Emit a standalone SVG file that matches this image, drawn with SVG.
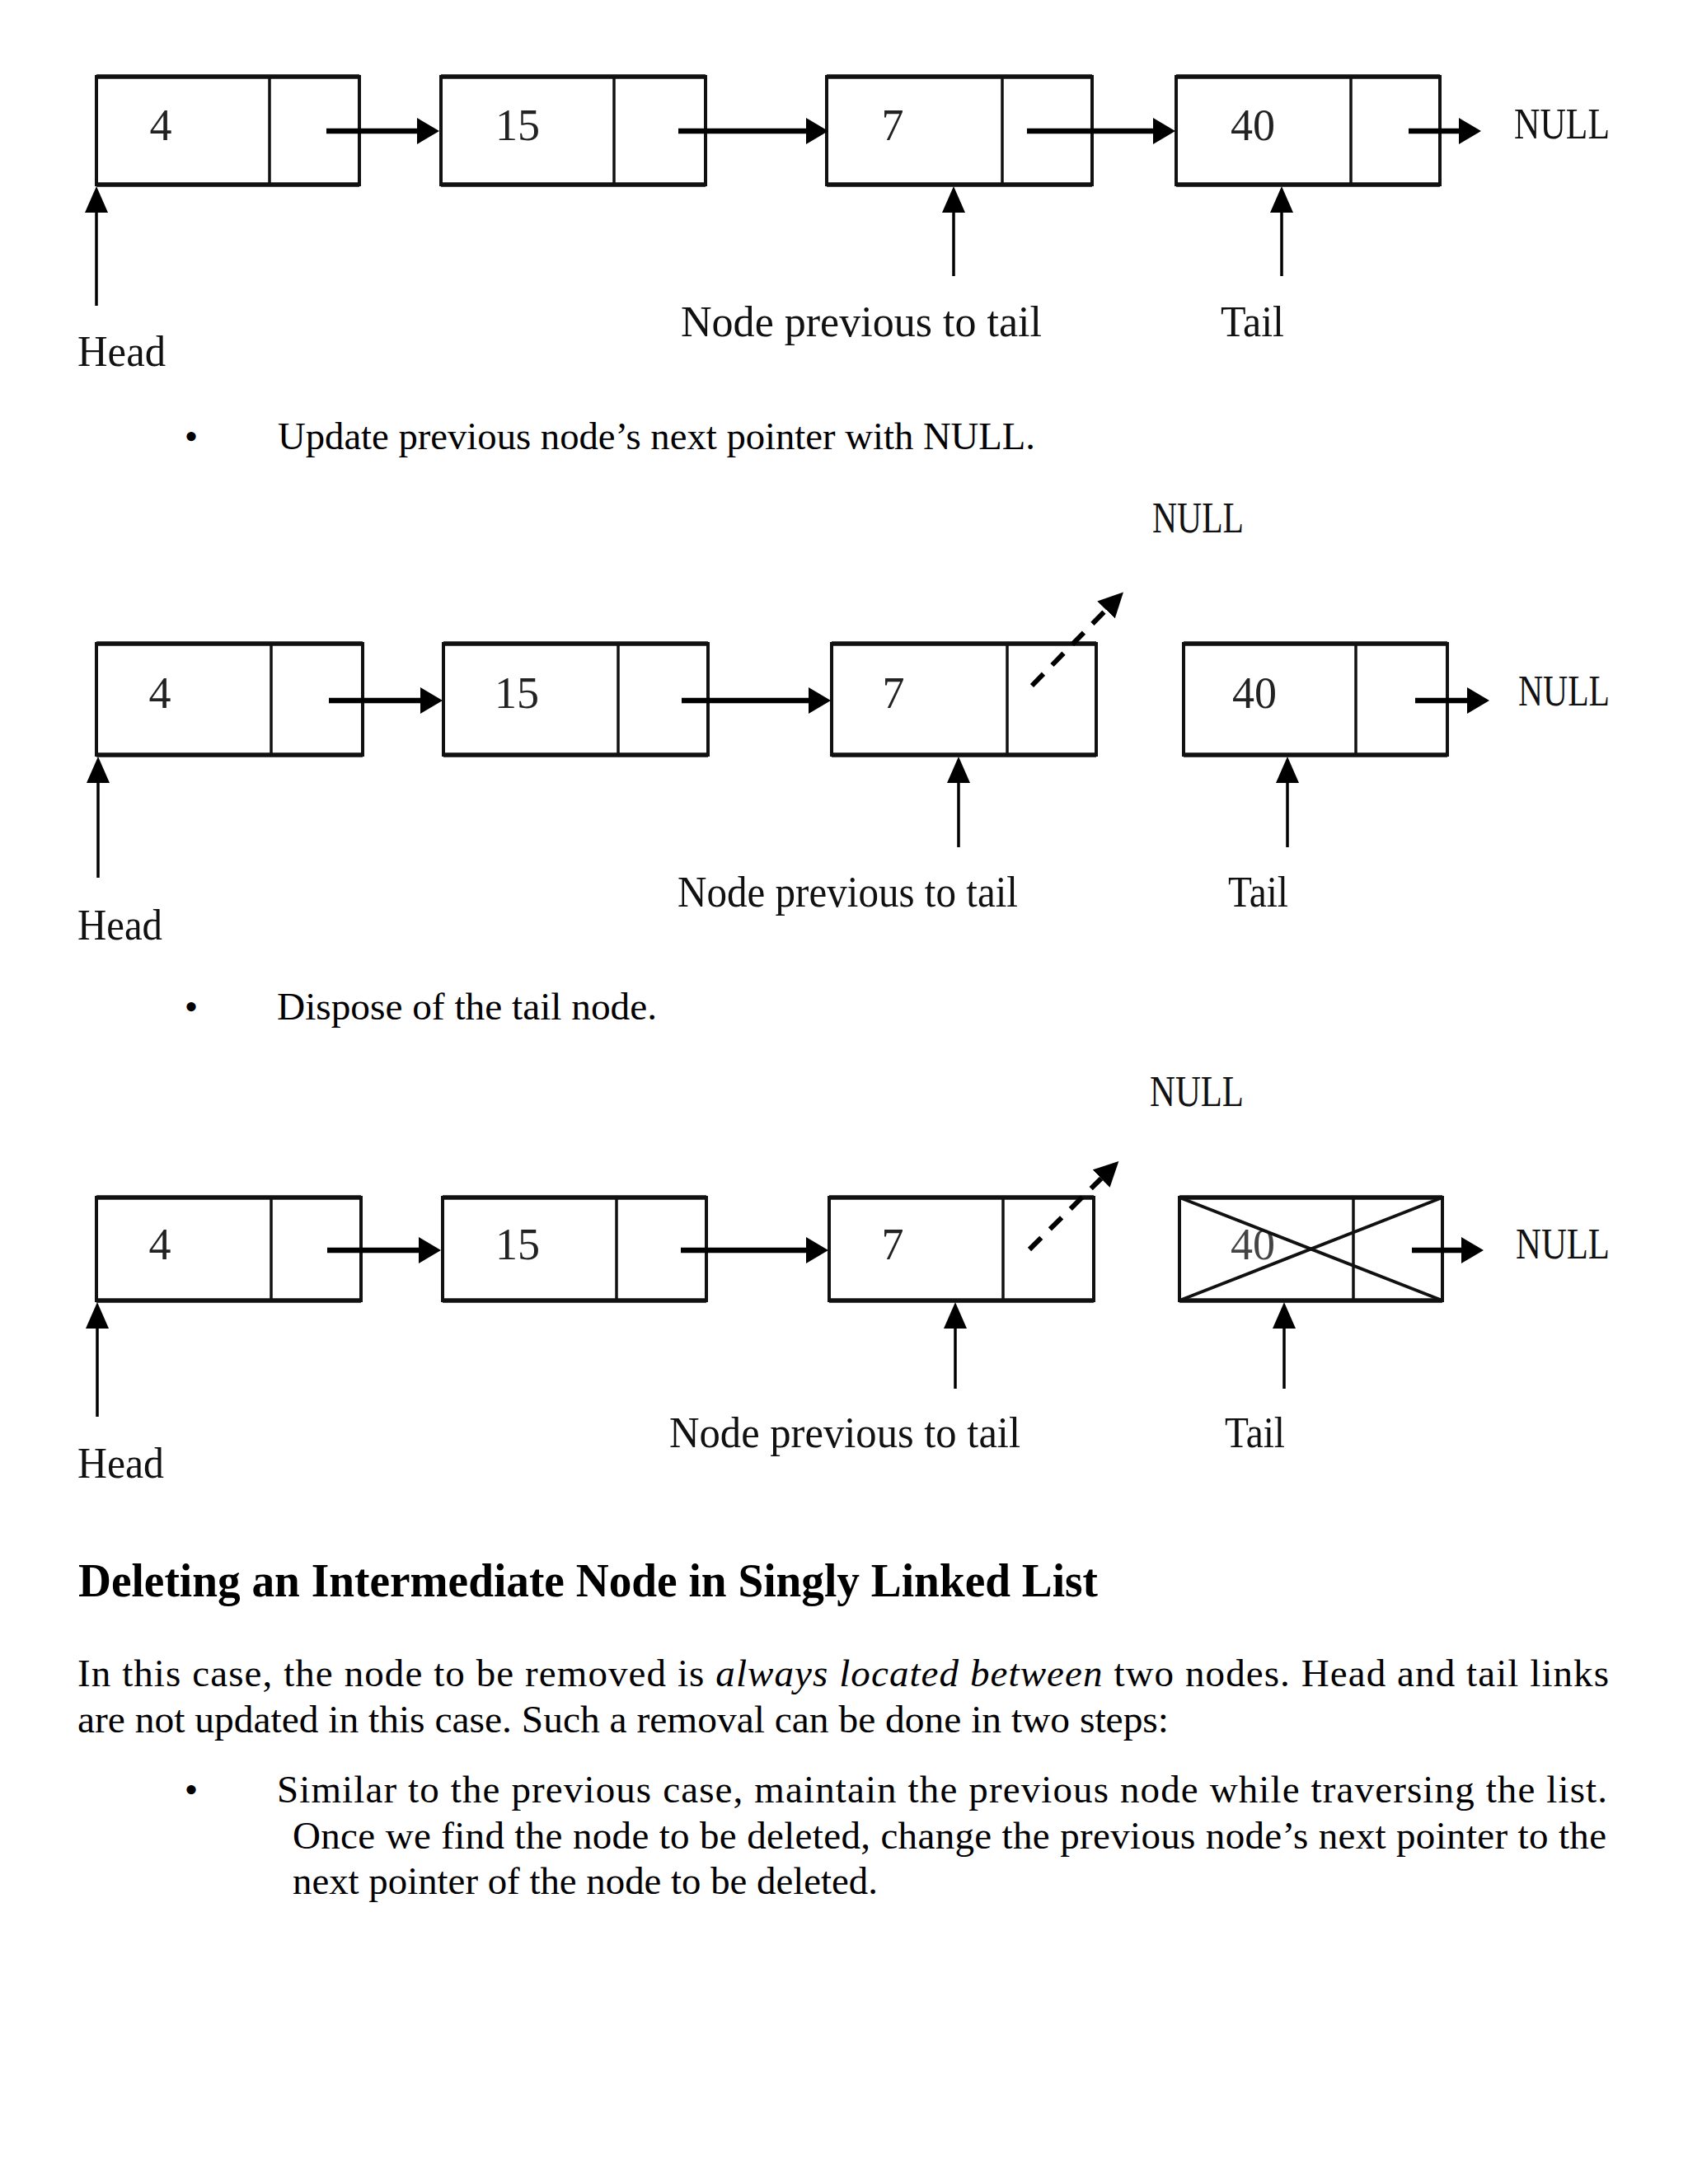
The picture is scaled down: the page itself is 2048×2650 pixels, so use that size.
<svg xmlns="http://www.w3.org/2000/svg" width="2048" height="2650" viewBox="0 0 2048 2650">
<style>
.box{fill:#fff;stroke:#111;stroke-width:4}
.edge{stroke:#111;stroke-width:5.5}
.div{stroke:#111;stroke-width:3.5}
.num{font-family:"Liberation Serif",serif;font-size:54px;fill:#222;text-anchor:middle}
.lbl{font-family:"Liberation Serif",serif;font-size:53px;fill:#111}
.body{font-family:"Liberation Serif",serif;font-size:47px;fill:#000}
.head{font-family:"Liberation Serif",serif;font-size:57px;font-weight:bold;fill:#000}
.link{stroke:#000;stroke-width:6.5;fill:none}
.ptr{stroke:#000;stroke-width:3.5;fill:none}
.dash{stroke:#000;stroke-width:6;fill:none;stroke-dasharray:20 15}
.cross{stroke:#111;stroke-width:4}
</style>
<defs>
<marker id="ah" markerUnits="userSpaceOnUse" viewBox="0 0 27 32" markerWidth="27" markerHeight="32" refX="0" refY="16" orient="auto"><path d="M0,0 L27,16 L0,32 Z" fill="#000"/></marker>
<marker id="au" markerUnits="userSpaceOnUse" viewBox="0 0 32 28" markerWidth="32" markerHeight="28" refX="0" refY="14" orient="auto"><path d="M0,0 L32,14 L0,28 Z" fill="#000"/></marker>
<marker id="ad" markerUnits="userSpaceOnUse" viewBox="0 0 30 30" markerWidth="30" markerHeight="30" refX="0" refY="15" orient="auto"><path d="M0,0 L30,15 L0,30 Z" fill="#000"/></marker>
</defs>
<rect width="2048" height="2650" fill="#fff"/>

<!-- Diagram 1 -->
<g id="d1-n1"><rect class="box" x="117" y="93" width="319" height="131"/><line class="edge" x1="117" y1="93" x2="436" y2="93"/><line class="edge" x1="117" y1="224" x2="436" y2="224"/><line class="div" x1="327" y1="93" x2="327" y2="224"/><text class="num" x="195" y="170">4</text></g>
<g id="d1-n2"><rect class="box" x="535" y="93" width="321" height="131"/><line class="edge" x1="535" y1="93" x2="856" y2="93"/><line class="edge" x1="535" y1="224" x2="856" y2="224"/><line class="div" x1="745" y1="93" x2="745" y2="224"/><text class="num" x="628" y="170">15</text></g>
<g id="d1-n3"><rect class="box" x="1003" y="93" width="322" height="131"/><line class="edge" x1="1003" y1="93" x2="1325" y2="93"/><line class="edge" x1="1003" y1="224" x2="1325" y2="224"/><line class="div" x1="1216" y1="93" x2="1216" y2="224"/><text class="num" x="1083" y="170">7</text></g>
<g id="d1-n4"><rect class="box" x="1427" y="93" width="320" height="131"/><line class="edge" x1="1427" y1="93" x2="1747" y2="93"/><line class="edge" x1="1427" y1="224" x2="1747" y2="224"/><line class="div" x1="1639" y1="93" x2="1639" y2="224"/><text class="num" x="1520" y="170">40</text></g>
<g id="d1-labels">
<text class="lbl" x="1837" y="168" textLength="116" lengthAdjust="spacingAndGlyphs">NULL</text>
<text class="lbl" x="94" y="444" textLength="107" lengthAdjust="spacingAndGlyphs">Head</text>
<text class="lbl" x="826" y="408" textLength="438" lengthAdjust="spacingAndGlyphs">Node previous to tail</text>
<text class="lbl" x="1481" y="408" textLength="77" lengthAdjust="spacingAndGlyphs">Tail</text>
</g>

<!-- Text 1 -->
<g id="bullet1">
<text class="body" x="232" y="545" text-anchor="middle">•</text>
<text class="body" x="337" y="545" textLength="919" lengthAdjust="spacingAndGlyphs">Update previous node’s next pointer with NULL.</text>
</g>

<!-- Diagram 2 -->
<g id="d2-n1"><rect class="box" x="117" y="781" width="323" height="135"/><line class="edge" x1="117" y1="781" x2="440" y2="781"/><line class="edge" x1="117" y1="916" x2="440" y2="916"/><line class="div" x1="329" y1="781" x2="329" y2="916"/><text class="num" x="194" y="859">4</text></g>
<g id="d2-n2"><rect class="box" x="538" y="781" width="321" height="135"/><line class="edge" x1="538" y1="781" x2="859" y2="781"/><line class="edge" x1="538" y1="916" x2="859" y2="916"/><line class="div" x1="750" y1="781" x2="750" y2="916"/><text class="num" x="627" y="859">15</text></g>
<g id="d2-n3"><rect class="box" x="1009" y="781" width="321" height="135"/><line class="edge" x1="1009" y1="781" x2="1330" y2="781"/><line class="edge" x1="1009" y1="916" x2="1330" y2="916"/><line class="div" x1="1222" y1="781" x2="1222" y2="916"/><text class="num" x="1084" y="859">7</text></g>
<g id="d2-n4"><rect class="box" x="1436" y="781" width="320" height="135"/><line class="edge" x1="1436" y1="781" x2="1756" y2="781"/><line class="edge" x1="1436" y1="916" x2="1756" y2="916"/><line class="div" x1="1645" y1="781" x2="1645" y2="916"/><text class="num" x="1522" y="859">40</text></g>
<g id="d2-labels">
<text class="lbl" x="1398" y="646" textLength="111" lengthAdjust="spacingAndGlyphs">NULL</text>
<text class="lbl" x="1842" y="856" textLength="111" lengthAdjust="spacingAndGlyphs">NULL</text>
<text class="lbl" x="94" y="1140" textLength="103" lengthAdjust="spacingAndGlyphs">Head</text>
<text class="lbl" x="822" y="1100" textLength="413" lengthAdjust="spacingAndGlyphs">Node previous to tail</text>
<text class="lbl" x="1490" y="1100" textLength="73" lengthAdjust="spacingAndGlyphs">Tail</text>
</g>

<!-- Text 2 -->
<g id="bullet2">
<text class="body" x="232" y="1237" text-anchor="middle">•</text>
<text class="body" x="336" y="1237" textLength="461" lengthAdjust="spacingAndGlyphs">Dispose of the tail node.</text>
</g>

<!-- Diagram 3 -->
<g id="d3-n1"><rect class="box" x="117" y="1453" width="321" height="125"/><line class="edge" x1="117" y1="1453" x2="438" y2="1453"/><line class="edge" x1="117" y1="1578" x2="438" y2="1578"/><line class="div" x1="329" y1="1453" x2="329" y2="1578"/><text class="num" x="194" y="1528">4</text></g>
<g id="d3-n2"><rect class="box" x="537" y="1453" width="320" height="125"/><line class="edge" x1="537" y1="1453" x2="857" y2="1453"/><line class="edge" x1="537" y1="1578" x2="857" y2="1578"/><line class="div" x1="748" y1="1453" x2="748" y2="1578"/><text class="num" x="628" y="1528">15</text></g>
<g id="d3-n3"><rect class="box" x="1006" y="1453" width="321" height="125"/><line class="edge" x1="1006" y1="1453" x2="1327" y2="1453"/><line class="edge" x1="1006" y1="1578" x2="1327" y2="1578"/><line class="div" x1="1217" y1="1453" x2="1217" y2="1578"/><text class="num" x="1083" y="1528">7</text></g>
<g id="d3-n4"><rect class="box" x="1431" y="1453" width="319" height="125"/><line class="edge" x1="1431" y1="1453" x2="1750" y2="1453"/><line class="edge" x1="1431" y1="1578" x2="1750" y2="1578"/><line class="div" x1="1642" y1="1453" x2="1642" y2="1578"/><text class="num" x="1520" y="1528" style="fill:#444">40</text><line class="cross" x1="1431" y1="1453" x2="1750" y2="1578"/><line class="cross" x1="1431" y1="1578" x2="1750" y2="1453"/></g>
<g id="d3-labels">
<text class="lbl" x="1395" y="1342" textLength="114" lengthAdjust="spacingAndGlyphs">NULL</text>
<text class="lbl" x="1839" y="1527" textLength="114" lengthAdjust="spacingAndGlyphs">NULL</text>
<text class="lbl" x="94" y="1793" textLength="105" lengthAdjust="spacingAndGlyphs">Head</text>
<text class="lbl" x="812" y="1756" textLength="426" lengthAdjust="spacingAndGlyphs">Node previous to tail</text>
<text class="lbl" x="1486" y="1756" textLength="73" lengthAdjust="spacingAndGlyphs">Tail</text>
</g>

<!-- Connectors -->
<g id="connectors">
<line class="link" x1="396" y1="159" x2="506" y2="159" marker-end="url(#ah)"/>
<line class="link" x1="823" y1="159" x2="978" y2="159" marker-end="url(#ah)"/>
<line class="link" x1="1246" y1="159" x2="1399" y2="159" marker-end="url(#ah)"/>
<line class="link" x1="1709" y1="159" x2="1770" y2="159" marker-end="url(#ah)"/>
<line class="ptr" x1="117" y1="371" x2="117" y2="258" marker-end="url(#au)"/>
<line class="ptr" x1="1157" y1="335" x2="1157" y2="258" marker-end="url(#au)"/>
<line class="ptr" x1="1555" y1="335" x2="1555" y2="258" marker-end="url(#au)"/>

<line class="link" x1="399" y1="850" x2="510" y2="850" marker-end="url(#ah)"/>
<line class="link" x1="827" y1="850" x2="981" y2="850" marker-end="url(#ah)"/>
<line class="link" x1="1717" y1="850" x2="1780" y2="850" marker-end="url(#ah)"/>
<line class="dash" x1="1252" y1="832" x2="1342" y2="740" marker-end="url(#ad)"/>
<line class="ptr" x1="119" y1="1065" x2="119" y2="950" marker-end="url(#au)"/>
<line class="ptr" x1="1163" y1="1028" x2="1163" y2="950" marker-end="url(#au)"/>
<line class="ptr" x1="1562" y1="1028" x2="1562" y2="950" marker-end="url(#au)"/>

<line class="link" x1="397" y1="1517" x2="508" y2="1517" marker-end="url(#ah)"/>
<line class="link" x1="826" y1="1517" x2="978" y2="1517" marker-end="url(#ah)"/>
<line class="link" x1="1713" y1="1517" x2="1773" y2="1517" marker-end="url(#ah)"/>
<line class="dash" x1="1249" y1="1516" x2="1336" y2="1430" marker-end="url(#ad)"/>
<line class="ptr" x1="118" y1="1719" x2="118" y2="1612" marker-end="url(#au)"/>
<line class="ptr" x1="1159" y1="1685" x2="1159" y2="1612" marker-end="url(#au)"/>
<line class="ptr" x1="1558" y1="1685" x2="1558" y2="1612" marker-end="url(#au)"/>
</g>

<!-- Section text -->
<g id="section">
<text class="head" x="95" y="1937" textLength="1237" lengthAdjust="spacingAndGlyphs">Deleting an Intermediate Node in Singly Linked List</text>
<text class="body" x="94" y="2046" textLength="1858" lengthAdjust="spacing">In this case, the node to be removed is <tspan font-style="italic">always located between</tspan> two nodes. Head and tail links</text>
<text class="body" x="94" y="2102" textLength="1324" lengthAdjust="spacingAndGlyphs">are not updated in this case. Such a removal can be done in two steps:</text>
<text class="body" x="232" y="2187" text-anchor="middle">•</text>
<text class="body" x="336" y="2187" textLength="1614" lengthAdjust="spacing">Similar to the previous case, maintain the previous node while traversing the list.</text>
<text class="body" x="355" y="2243" textLength="1594" lengthAdjust="spacing">Once we find the node to be deleted, change the previous node’s next pointer to the</text>
<text class="body" x="355" y="2298" textLength="710" lengthAdjust="spacingAndGlyphs">next pointer of the node to be deleted.</text>
</g>
</svg>
